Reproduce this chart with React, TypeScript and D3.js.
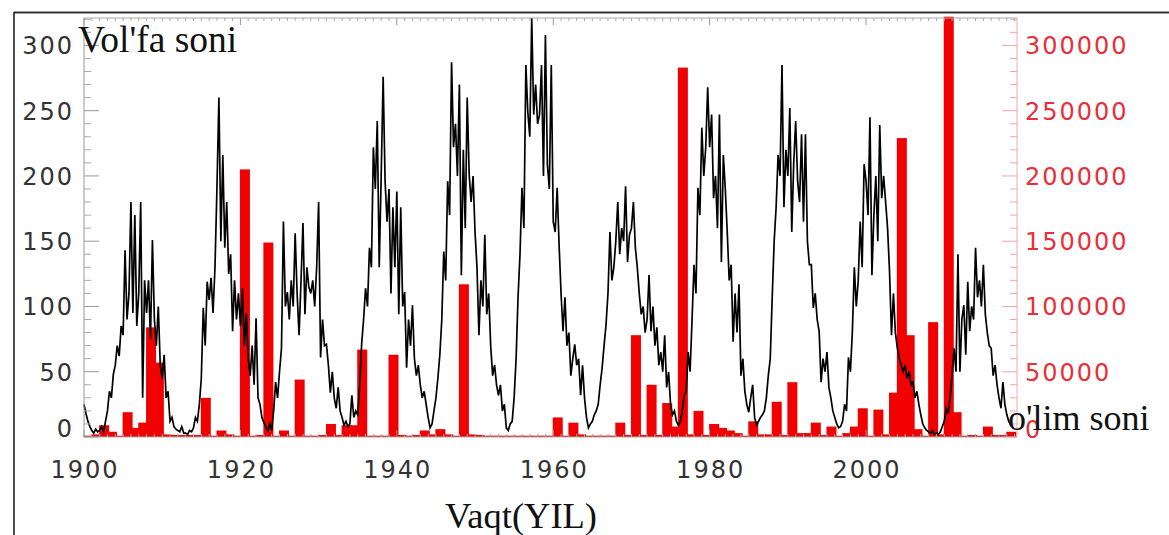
import React from "react";
import * as d3 from "d3";

// sunspot number (Vol'fa soni), 4 readings per year, starting 1900.0
const sunspotStart = 1900;
const sunspotQuarterly = [
  25, 18, 12, 8, 5, 3, 6, 4, 5, 8, 4, 12, 20, 35, 30, 48, 55, 70, 62, 85,
  78, 143, 90, 110, 180, 95, 170, 85, 110, 180, 30, 120, 95, 120, 75, 151, 90, 70, 100, 55,
  45, 63, 30, 35, 12, 15, 8, 6, 5, 4, 8, 3, 3, 2, 5, 4, 7, 15, 12, 25,
  45, 99, 70, 119, 105, 122, 95, 130, 191, 260, 150, 216, 145, 180, 125, 140, 81, 120, 90, 110,
  85, 114, 70, 95, 60, 47, 70, 40, 91, 30, 25, 15, 11, 8, 5, 10, 5, 20, 42, 30,
  50, 68, 165, 100, 111, 90, 120, 100, 156, 110, 78, 120, 164, 94, 130, 115, 110, 120, 100, 130,
  180, 61, 90, 70, 71, 55, 34, 50, 30, 22, 38, 20, 15, 9, 12, 8, 10, 32, 15, 20,
  17, 40, 71, 90, 114, 100, 145, 130, 222, 190, 242, 130, 200, 276, 196, 165, 190, 110, 176, 130,
  188, 94, 176, 100, 111, 53, 90, 70, 101, 60, 47, 55, 40, 30, 35, 25, 15, 7, 10, 20,
  30, 45, 63, 90, 142, 120, 196, 170, 287, 222, 240, 200, 270, 124, 220, 160, 260, 201, 180, 200,
  157, 130, 78, 120, 100, 155, 94, 110, 70, 47, 55, 40, 32, 40, 20, 25, 7, 5, 10, 12,
  30, 60, 107, 140, 191, 160, 285, 249, 230, 321, 247, 270, 240, 247, 285, 200, 308, 209, 190, 285,
  165, 157, 191, 147, 110, 81, 107, 70, 80, 47, 60, 71, 55, 60, 32, 55, 30, 15, 7, 10,
  12, 17, 20, 25, 40, 53, 70, 86, 110, 157, 120, 130, 150, 180, 140, 160, 150, 192, 134, 155,
  160, 180, 145, 130, 110, 94, 100, 80, 90, 124, 81, 100, 70, 84, 55, 65, 50, 78, 38, 50,
  25, 17, 20, 12, 9, 12, 20, 32, 35, 65, 50, 90, 132, 110, 191, 170, 237, 200, 222, 268,
  222, 247, 183, 200, 160, 247, 134, 216, 190, 157, 120, 132, 73, 110, 80, 117, 47, 60, 35, 25,
  19, 30, 40, 15, 9, 12, 15, 17, 20, 30, 47, 60, 107, 150, 176, 216, 200, 285, 176, 220,
  200, 252, 157, 210, 242, 196, 180, 232, 165, 232, 150, 132, 132, 99, 110, 90, 81, 42, 60, 50,
  65, 38, 30, 20, 15, 10, 7, 8, 12, 25, 20, 61, 50, 81, 130, 100, 120, 165, 130, 209,
  196, 170, 245, 124, 170, 200, 150, 239, 183, 200, 180, 160, 127, 78, 110, 80, 68, 60, 55, 50,
  55, 45, 50, 40, 42, 30, 35, 25, 17, 10, 7, 5, 4, 3, 5, 2, 3, 2, 4, 8,
  12, 22, 18, 30, 47, 68, 50, 140, 50, 90, 101, 63, 119, 81, 100, 90, 145, 107, 120, 100,
  132, 94, 80, 70, 68, 47, 55, 40, 30, 22, 42, 25, 17, 12, 9, 8,
];

// earthquake deaths (o'lim soni) per year, 1900..2018
const deathStart = 1900;
const deathsPerYear = [
  1000, 2000, 9000, 4000, 1000, 19000, 7000, 11000, 84000, 57000, // 1900s
  2000, 1500, 1500, 1500, 1500, 30000, 1000, 5000, 2000, 1000, // 1910s
  205000, 1000, 1500, 149000, 1000, 5000, 1000, 44000, 1000, 1000, // 1920s
  1500, 10000, 1500, 9000, 9000, 67000, 1000, 1000, 1000, 63000, // 1930s
  1500, 1000, 1500, 5000, 2000, 6000, 2000, 1000, 117000, 2000, // 1940s
  1500, 1000, 1000, 1000, 1000, 1000, 1000, 1000, 1000, 1000, // 1950s
  15000, 1000, 11000, 2000, 1000, 1000, 1000, 1000, 11000, 1500, // 1960s
  78000, 1500, 40000, 1500, 26000, 8000, 283000, 2000, 20000, 1500, // 1970s
  10000, 7000, 5000, 3000, 1000, 12000, 2000, 2000, 27000, 1500, // 1980s
  42000, 3000, 3000, 11000, 1500, 8000, 1000, 3000, 8000, 22000, // 1990s
  1000, 21000, 2000, 34000, 229000, 78000, 6000, 1000, 88000, 2000, // 2000s
  322000, 19000, 1000, 1500, 1000, 8000, 1500, 1500, 4000, // 2010s
];

const leftTicks = [0, 50, 100, 150, 200, 250, 300];
const rightTicks = [0, 50000, 100000, 150000, 200000, 250000, 300000];
const yearTicks = [1900, 1920, 1940, 1960, 1980, 2000];

const W = 1169;
const H = 535;
const L = 84, R = 1017, T = 18, B = 437;
const numFont = "'DejaVu Sans', sans-serif";
const serif = "'Liberation Serif', 'Times New Roman', serif";
const redText = "#e8303a";

export default function App() {
  const x = d3.scaleLinear().domain([1900, 2019.3]).range([L, R]);
  const yL = d3.scaleLinear().domain([0, 321]).range([B, T]);
  const yR = d3.scaleLinear().domain([0, 321000]).range([B, T]);

  const line = d3
    .line<number>()
    .x((_, i) => x(sunspotStart + i / 4))
    .y((d) => yL(d));

  const minorY = yL.ticks(32).filter((v) => v % 50 !== 0);
  const minorR = yR.ticks(32).filter((v) => v % 50000 !== 0);
  const minorX = x.ticks(120).filter((v) => v % 20 !== 0);

  return (
    <svg
      width={W}
      height={H}
      style={{ position: "absolute", left: 0, top: 0, background: "#fff" }}
    >
      {/* outer frame lines */}
      <line x1={14} y1={12.5} x2={W} y2={12.5} stroke="#333" strokeWidth={2} />
      <line x1={14} y1={12} x2={14} y2={H} stroke="#222" strokeWidth={1.6} />

      {/* bars */}
      {deathsPerYear.map((d, i) => {
        const yr = deathStart + i;
        const x0 = x(yr) - 0.5;
        const y0 = yR(d);
        return (
          <rect
            key={yr}
            x={x0}
            y={y0}
            width={10}
            height={B - y0}
            fill="#f00000"
          />
        );
      })}

      {/* sunspot line */}
      <path
        d={line(sunspotQuarterly) || ""}
        fill="none"
        stroke="#000"
        strokeWidth={1.7}
        strokeLinejoin="miter"
      />

      {/* axes lines */}
      <line x1={L} y1={T} x2={L} y2={B} stroke="#999" />
      <line x1={L} y1={T} x2={R} y2={T} stroke="#aaa" />
      <line x1={L} y1={B} x2={R} y2={B} stroke="#aaa" />
      <line x1={R} y1={T} x2={R} y2={B} stroke="#f4a6aa" />

      {/* left ticks */}
      {leftTicks.map((v) => (
        <line key={"lm" + v} x1={L} x2={L + 15} y1={yL(v)} y2={yL(v)} stroke="#999" />
      ))}
      {minorY.map((v) => (
        <line key={"ln" + v} x1={L} x2={L + 7} y1={yL(v)} y2={yL(v)} stroke="#aaa" />
      ))}
      {/* right ticks */}
      {rightTicks.map((v) => (
        <line key={"rm" + v} x1={R} x2={R - 15} y1={yR(v)} y2={yR(v)} stroke="#f4a6aa" />
      ))}
      {minorR.map((v) => (
        <line key={"rn" + v} x1={R} x2={R - 7} y1={yR(v)} y2={yR(v)} stroke="#f4a6aa" />
      ))}
      {/* top / bottom ticks */}
      {yearTicks.map((v) => (
        <g key={"xm" + v}>
          <line x1={x(v)} x2={x(v)} y1={T} y2={T + 7} stroke="#999" />
          <line x1={x(v)} x2={x(v)} y1={B} y2={B - 7} stroke="#999" />
        </g>
      ))}
      {minorX.map((v) => (
        <g key={"xn" + v}>
          <line x1={x(v)} x2={x(v)} y1={T} y2={T + 3} stroke="#aaa" />
          <line x1={x(v)} x2={x(v)} y1={B} y2={B - 3} stroke="#aaa" />
        </g>
      ))}

      {/* left tick labels */}
      {leftTicks.map((v) => (
        <text
          key={"lt" + v}
          x={74}
          y={yL(v) + (v === 0 ? 0 : 9)}
          textAnchor="end"
          fontFamily={numFont}
          fontSize={24}
          letterSpacing={2}
          fill="#333"
        >
          {v}
        </text>
      ))}
      {/* right tick labels */}
      {rightTicks.map((v) => (
        <text
          key={"rt" + v}
          x={1025}
          y={yR(v) + (v === 0 ? 1 : 9)}
          textAnchor="start"
          fontFamily={numFont}
          fontSize={24}
          letterSpacing={2}
          fill={redText}
        >
          {v}
        </text>
      ))}
      {/* x tick labels */}
      {yearTicks.map((v) => (
        <text
          key={"xt" + v}
          x={x(v) + 1}
          y={478}
          textAnchor="middle"
          fontFamily={numFont}
          fontSize={24}
          letterSpacing={2}
          fill="#333"
        >
          {v}
        </text>
      ))}

      {/* titles */}
      <text x={78} y={52} fontFamily={serif} fontSize={37.5} fill="#111">
        Vol'fa soni
      </text>
      <text x={1008} y={430} fontFamily={serif} fontSize={36} fill="#111">
        o'lim soni
      </text>
      <text x={521} y={528} textAnchor="middle" fontFamily={serif} fontSize={36.5} fill="#111">
        Vaqt(YIL)
      </text>
    </svg>
  );
}
